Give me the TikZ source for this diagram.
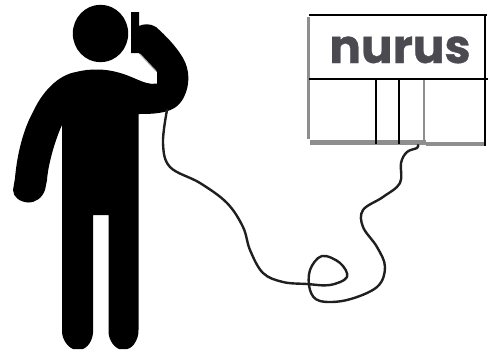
\documentclass[tikz,border=0pt]{standalone}
\usepackage{fontspec}
\setmainfont{Poppins}
\newfontfamily\logofont[UprightFont={* Bold},FakeBold=0.7]{Poppins}
\definecolor{logo}{HTML}{4A4A50}
\definecolor{edge}{HTML}{8E8E8E}
\tikzset{
  figure/.style={fill=black,draw=none},
  blackline/.style={draw=black,line width=1.8pt},
  grayline/.style={draw=edge,line width=2.6pt},
  cord/.style={draw=black!88,line width=2.4pt,line cap=round,line join=round},
  logotext/.style={text=logo,font=\logofont\fontsize{47}{47}\selectfont,inner sep=0pt}
}
\begin{document}
\begin{tikzpicture}[x=1pt,y=-1pt]
\useasboundingbox (0,0) rectangle (492,356);
% head
\fill[figure] (100.5,33.5) ellipse [x radius=27.7,y radius=28.7];
% body, arms, legs
\fill[figure]
  (97,69.5) .. controls (112,69.5) and (125,74) .. (136,79)
  .. controls (143,82) and (150,85) .. (157,83.5)
  -- (157,72) -- (139,53) -- (138.5,53) -- (131,53) -- (131,12) -- (139,12) -- (139,26)
  .. controls (143,24) and (150,23) .. (156,27)
  .. controls (165,35) and (176,46) .. (183,58)
  .. controls (190,70) and (190,85) .. (184,97)
  .. controls (179,107) and (172,110) .. (164,112)
  .. controls (155,114) and (146,114) .. (138.5,114)
  -- (138.5,330)
  .. controls (139,337) and (134,348) .. (127,349)
  -- (119,349)
  .. controls (112,346) and (108,337) .. (108.5,330)
  -- (108.5,215) -- (93,215) -- (93,330)
  .. controls (93.5,337) and (90,346) .. (83,349)
  -- (73,349)
  .. controls (66,346) and (61.5,337) .. (62,330)
  -- (62,125)
  .. controls (55,140) and (48,165) .. (47,180)
  -- (45,190)
  .. controls (42,198) and (36,202.5) .. (28,202.5)
  .. controls (20,202) and (13,197) .. (13,190)
  -- (15,178)
  .. controls (17,155) and (23,130) .. (33,112)
  .. controls (42,92) and (58,75) .. (76,72)
  .. controls (84,70) and (90,69.5) .. (97,69.5) -- cycle;
\draw[draw=black!35,line width=1pt] (140,54) -- (156,71);
% shop front
\draw[grayline] (308.5,17) -- (308.5,139);
\draw[grayline] (424,80) -- (424,140);
\fill[edge] (310,140) rectangle (426,145);
\fill[edge] (426,142) rectangle (485,146);
\draw[blackline] (309,15) -- (487,15);
\draw[blackline] (309,79) -- (488,79);
\draw[blackline] (485,15) -- (485,146);
\draw[blackline] (376,79) -- (376,144);
\draw[blackline] (399,79) -- (399,144);
\node[logotext,anchor=base] (logo) at (400,63) {nurus};
% cord
\coordinate (hand) at (167,110);
\coordinate (shop) at (418,145);
\draw[cord] plot[smooth,tension=0.6] coordinates {
  (hand) (163,143) (170,167) (200,183) (227,203) (243,227) (250,250) (263,273)
  (283,282) (307,284) (330,285) (347,277) (340,263) (322,256) (310,270) (310,290)
  (320,301) (347,300) (377,287) (385,267) (377,247) (363,227) (363,210) (383,197)
  (400,183) (401,163) (407,152) (417,148) (shop)};
\end{tikzpicture}
\end{document}
